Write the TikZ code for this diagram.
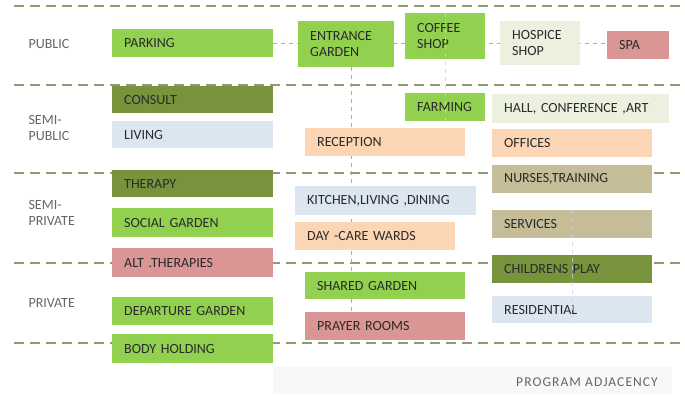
\documentclass[tikz,border=0pt]{standalone}
\usepackage{fontspec}
\setmainfont{Carlito}
\usetikzlibrary{backgrounds}
\definecolor{gA}{HTML}{92D050}
\definecolor{gD}{HTML}{77933C}
\definecolor{lb}{HTML}{DCE6F1}
\definecolor{pc}{HTML}{FCD5B4}
\definecolor{pk}{HTML}{DA9694}
\definecolor{tn}{HTML}{C4BD97}
\definecolor{lg}{HTML}{EBF1DE}
\definecolor{txt}{HTML}{2A2A2A}
\definecolor{zonec}{HTML}{666666}
\definecolor{divc}{HTML}{8E9B74}
\definecolor{connc}{HTML}{A8A8A8}
\definecolor{bandc}{HTML}{F8F8F8}
\tikzset{
  progbox/.style={anchor=north west, inner xsep=12pt, inner ysep=0pt, align=left,
    font=\fontsize{14}{15.5}\selectfont, text=txt},
  divider/.style={draw=divc, line width=2.4pt, dash pattern=on 10pt off 6pt},
  conn/.style={draw=connc, line width=0.9pt, dash pattern=on 4pt off 4pt},
  connover/.style={draw=white!65!gray, line width=0.9pt, dash pattern=on 4pt off 4pt, opacity=0.8},
  zone/.style={anchor=west, align=left, text=zonec, font=\fontsize{14}{16}\selectfont},
}
\newcommand\progbox[7]{%
  \pgfmathsetmacro\pbh{#6-#4}\pgfmathsetmacro\pbw{#5-#3-24}%
  \node[progbox, fill=#2, minimum height=\pbh pt, text width=\pbw pt] (#1) at (#3,#4) {#7};}
\begin{document}
\begin{tikzpicture}[x=1pt,y=-1pt]
\useasboundingbox (0,0) rectangle (685,394);
% zone labels
\node[zone] (zpublic) at (25,44) {PUBLIC};
\node[zone] (zsemipublic) at (25,128) {SEMI-\\PUBLIC};
\node[zone] (zsemiprivate) at (25,213) {SEMI-\\PRIVATE};
\node[zone] (zprivate) at (25,303) {PRIVATE};
% boxes
\progbox{parking}{gA}{112}{29}{273}{57}{PARKING}
\progbox{entrance}{gA}{298}{21}{394}{67}{ENTRANCE\\GARDEN}
\progbox{coffee}{gA}{405}{13}{485}{59}{COFFEE\\SHOP}
\progbox{hospice}{lg}{500}{21}{580}{65}{HOSPICE\\SHOP}
\progbox{spa}{pk}{607}{31}{669}{59}{SPA}
\progbox{consult}{gD}{112}{86}{273}{113}{CONSULT}
\progbox{living}{lb}{112}{121}{273}{148}{LIVING}
\progbox{therapy}{gD}{112}{170}{273}{197}{THERAPY}
\progbox{social}{gA}{112}{208}{273}{237}{SOCIAL GARDEN}
\progbox{alt}{pk}{112}{248}{273}{277}{ALT .THERAPIES}
\progbox{departure}{gA}{112}{297}{273}{325}{DEPARTURE GARDEN}
\progbox{body}{gA}{112}{334}{273}{363}{BODY HOLDING}
\progbox{farming}{gA}{405}{93}{485}{121}{FARMING}
\progbox{hall}{lg}{492}{94}{669}{123}{HALL, CONFERENCE ,ART}
\progbox{reception}{pc}{305}{128}{465}{156}{RECEPTION}
\progbox{offices}{pc}{492}{129}{652}{157}{OFFICES}
\progbox{nurses}{tn}{492}{165}{652}{193}{NURSES,TRAINING}
\progbox{kitchen}{lb}{295}{186}{476}{215}{KITCHEN,LIVING ,DINING}
\progbox{daycare}{pc}{295}{222}{455}{250}{DAY -CARE WARDS}
\progbox{services}{tn}{492}{210}{652}{238}{SERVICES}
\progbox{children}{gD}{492}{255}{652}{283}{CHILDRENS PLAY}
\progbox{residential}{lb}{492}{296}{652}{323}{RESIDENTIAL}
\progbox{shared}{gA}{305}{272}{465}{299}{SHARED GARDEN}
\progbox{prayer}{pk}{305}{312}{465}{340}{PRAYER ROOMS}
% things behind the boxes
\begin{scope}[on background layer]
  \fill[white] (0,0) rectangle (685,394);
  \fill[bandc] (273,367) rectangle (672,394);
  \foreach \yy in {6,85,173,263,343}
    \draw[divider] (14,\yy) -- (680,\yy);
  \draw[conn] (parking.east) -- (spa.west |- parking.east);
  \draw[conn] ([xshift=5pt]entrance.south) -- ([xshift=5pt]entrance.south |- prayer.north);
\end{scope}
% connectors over boxes
\draw[connover] (coffee.north) -- (farming.south);
\draw[connover] (services.north) -- (residential.south);
% caption
\node[anchor=base east, text=zonec, font=\fontsize{13.5}{15}\selectfont\addfontfeature{LetterSpace=8}, inner sep=0pt] (caption) at (658,386) {PROGRAM ADJACENCY};
\end{tikzpicture}
\end{document}
